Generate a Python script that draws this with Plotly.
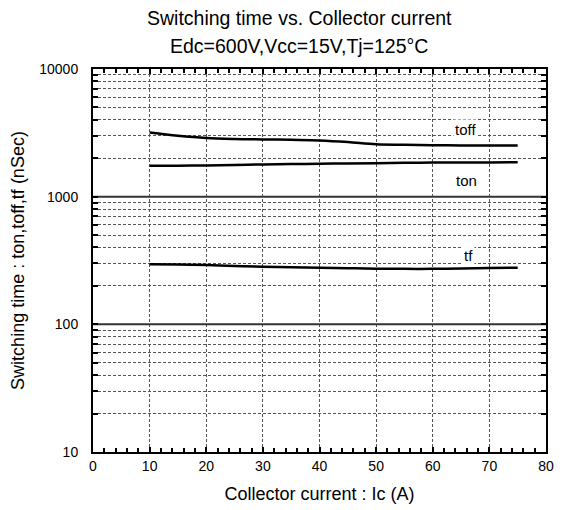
import numpy as np
import plotly.graph_objects as go

# ---- data ----
ic = [10, 15, 20, 25, 30, 35, 40, 45, 50, 55, 60, 65, 70, 75]
toff = [3180, 3000, 2880, 2830, 2810, 2790, 2760, 2680, 2570, 2550, 2530, 2520, 2520, 2520]
ton = [1750, 1750, 1755, 1770, 1790, 1800, 1810, 1820, 1830, 1840, 1850, 1850, 1855, 1860]
tf = [296, 294, 291, 287, 283, 280, 277, 275, 273, 272, 272, 274, 276, 278]

x_ticks = [0, 10, 20, 30, 40, 50, 60, 70, 80]
y_decades = [10, 100, 1000, 10000]

labels = ["toff", "ton", "tf"]
label_x = [65.7, 66.0, 66.4]
label_y = [3370, 1333, 347]

title1 = "Switching time vs. Collector current"
title2 = "Edc=600V,Vcc=15V,Tj=125°C"
xtitle = "Collector current : Ic (A)"
ytitle = "Switching time : ton,toff,tf (nSec)"

FONT = "Liberation Sans, Arial, sans-serif"

# y tick values: all 1..9 multiples per decade, labels only at decades
y_tickvals = []
y_ticktext = []
for d in y_decades[:-1]:
    for m in range(1, 10):
        v = d * m
        y_tickvals.append(v)
        y_ticktext.append(str(v) if m == 1 else "")
y_tickvals.append(y_decades[-1])
y_ticktext.append(str(y_decades[-1]))

fig = go.Figure()

# solid decade lines
for d in y_decades[1:-1]:
    fig.add_trace(go.Scatter(x=[x_ticks[0], x_ticks[-1]], y=[d, d], mode="lines",
                             line=dict(color="#333333", width=2), hoverinfo="skip",
                             showlegend=False))

for series in (toff, ton, tf):
    fig.add_trace(go.Scatter(x=ic, y=series, mode="lines",
                             line=dict(color="black", width=2.5, shape="spline"),
                             showlegend=False))

for t, lx, ly in zip(labels, label_x, label_y):
    fig.add_annotation(x=lx, y=np.log10(ly), text=t, showarrow=False,
                       xref="x", yref="y", bgcolor="white",
                       font=dict(family=FONT, size=15, color="black"))

fig.add_annotation(x=0.4555, y=1.1325, xref="paper", yref="paper", text=title1,
                   showarrow=False, yanchor="middle",
                   font=dict(family=FONT, size=19.5, color="black"))
fig.add_annotation(x=0.4555, y=1.0597, xref="paper", yref="paper", text=title2,
                   showarrow=False, yanchor="middle",
                   font=dict(family=FONT, size=19.5, color="black"))

grid_style = dict(gridcolor="#555555", gridwidth=1, griddash="3px,2px")

fig.update_xaxes(range=[0, 80], tickmode="array", tickvals=x_ticks,
                 ticks="inside", ticklen=5, tickwidth=2, tickcolor="black",
                 showline=True, linewidth=2, linecolor="black", mirror="ticks",
                 showgrid=True, zeroline=False,
                 minor=dict(dtick=2, ticks="inside", ticklen=4, tickwidth=2,
                            tickcolor="black", showgrid=False),
                 tickfont=dict(family=FONT, size=14, color="black"),
                 title=dict(text=xtitle, font=dict(family=FONT, size=18, color="black"),
                            standoff=15),
                 **grid_style)
fig.update_yaxes(type="log", range=[1, 4], tickmode="array", tickvals=y_tickvals,
                 ticktext=y_ticktext,
                 ticks="inside", ticklen=5, tickwidth=2, tickcolor="black",
                 showline=True, linewidth=2, linecolor="black", mirror="ticks",
                 showgrid=True, zeroline=False, ticklabelstandoff=10,
                 tickfont=dict(family=FONT, size=14, color="black"),
                 title=dict(text=ytitle, font=dict(family=FONT, size=18, color="black"),
                            standoff=10),
                 **grid_style)

fig.update_layout(width=563, height=510, autosize=False,
                  margin=dict(l=93, r=9, t=69, b=56),
                  plot_bgcolor="white", paper_bgcolor="white",
                  showlegend=False)

fig.write_html("out.html")
